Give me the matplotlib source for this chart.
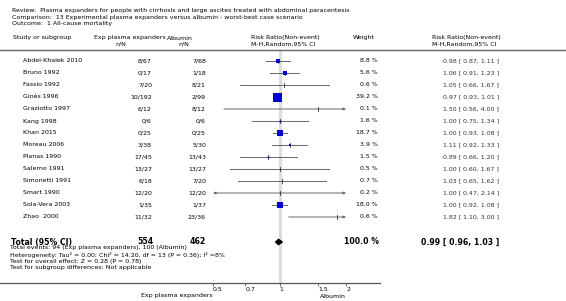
import numpy as np
import matplotlib
matplotlib.use("Agg")
from matplotlib import pyplot as plt
from matplotlib import transforms as mtransforms

# ---------------------------------------------------------------------------#
# data
studies = ['Abdel-Khalek 2010', 'Bruno 1992', 'Fassio 1992', 'Ginès 1996',
           'Graziotto 1997', 'Kang 1998', 'Khan 2015', 'Moreau 2006',
           'Planas 1990', 'Salerno 1991', 'Simonetti 1991', 'Smart 1990',
           'Sola-Vera 2003', 'Zhao  2000']
exp_nN = ['8/67', '0/17', '7/20', '10/192', '6/12', '0/6', '0/25', '3/38',
          '17/45', '13/27', '6/18', '12/20', '1/35', '11/32']
alb_nN = ['7/68', '1/18', '8/21', '2/99', '8/12', '0/6', '0/25', '5/30',
          '13/43', '13/27', '7/20', '12/20', '1/37', '23/36']
weights = [8.8, 5.6, 0.6, 39.2, 0.1, 1.6, 18.7, 3.9, 1.5, 0.5, 0.7, 0.2, 18.0, 0.6]
rr = [0.98, 1.06, 1.05, 0.97, 1.50, 1.00, 1.00, 1.11, 0.89, 1.00, 1.03, 1.00, 1.00, 1.82]
lo = [0.87, 0.91, 0.66, 0.93, 0.56, 0.75, 0.93, 0.92, 0.66, 0.60, 0.65, 0.47, 0.92, 1.10]
hi = [1.11, 1.23, 1.67, 1.01, 4.00, 1.34, 1.08, 1.33, 1.20, 1.67, 1.62, 2.14, 1.08, 3.00]

total_exp = 554
total_alb = 462
total_rr, total_lo, total_hi = 0.99, 0.96, 1.03

xticks = [0.5, 0.7, 1, 1.5, 2]
xtick_labels = ['0.5', '0.7', '1', '1.5', '2']
xmin, xmax = 0.5, 2.0

# ---------------------------------------------------------------------------#
W, H = 566, 301
fig = plt.figure(figsize=(W / 100, H / 100), dpi=100)
fs = 4.5
grey = '#666666'
blue = '#0000CC'

def fx(px):
    return px / W

def fy(py):
    return 1 - py / H

# forest axes: spans px 0..380 horizontally, 50..283 vertically
ax_l, ax_r, ax_t, ax_b = 0, 380, 50, 283
ax = fig.add_axes([fx(ax_l), fy(ax_b), fx(ax_r) - fx(ax_l), (ax_b - ax_t) / H])
ax.set_xscale('log')
# 0.5 sits at px 213 and 2 at px 346
k = (346 - 213) / np.log(xmax / xmin)
ax.set_xlim(xmin * np.exp((ax_l - 213) / k), xmin * np.exp((ax_r - 213) / k))
row0, row_h = 61, 12
ax.set_ylim((ax_b - row0) / row_h, (ax_t - row0) / row_h)
ax.patch.set_alpha(0)
for s in ['left', 'right', 'top']:
    ax.spines[s].set_visible(False)
ax.spines['bottom'].set_color('#555555')
ax.spines['bottom'].set_linewidth(0.9)
ax.set_yticks([])
ax.set_xticks(xticks)
ax.set_xticklabels(xtick_labels, fontsize=fs, ha='left')
ax.minorticks_off()
ax.tick_params(axis='x', length=2.5, width=0.6, color='#555555', pad=0.3)
ax.axvline(1, color='#dddddd', lw=2.2, zorder=0)

rows = np.arange(len(studies))
for i in rows:
    a, b = lo[i], hi[i]
    left_clip, right_clip = a < xmin, b > xmax
    a2, b2 = max(a, xmin), min(b, xmax)
    if left_clip or right_clip:
        style = '<|-|>' if (left_clip and right_clip) else ('-|>' if right_clip else '<|-')
        ax.annotate('', xy=(b2, i), xytext=(a2, i),
                    arrowprops=dict(arrowstyle=style, color=grey, lw=0.7,
                                    mutation_scale=3.5, shrinkA=0, shrinkB=0))
    else:
        ax.plot([a2, b2], [i, i], color=grey, lw=0.7, zorder=2)
    ax.plot([rr[i], rr[i]], [i - 0.13, i + 0.13], color='#333333', lw=0.6, zorder=3)
    side_px = 9 * np.sqrt(weights[i] / max(weights))
    if side_px > 1.5:
        ax.plot(rr[i], i, marker='s', ms=side_px * 0.72, color=blue, mec=blue,
                mew=0, zorder=4)

total_row = (242 - row0) / row_h
dh = 0.22
ax.fill([total_lo, total_rr, total_hi, total_rr],
        [total_row, total_row - dh, total_row, total_row + dh],
        color='black', zorder=4)

lab_tr = mtransforms.blended_transform_factory(ax.transData, fig.transFigure)
ax.text(0.5, fy(296), 'Exp plasma expanders', transform=lab_tr,
        ha='right', va='center', fontsize=fs)
ax.text(2, fy(296), 'Albumin', transform=lab_tr, ha='right', va='center', fontsize=fs)

# ---------------------------------------------------------------------------#
# text columns
tr = mtransforms.blended_transform_factory(fig.transFigure, ax.transData)
for i in rows:
    fig.text(fx(23), i, studies[i], transform=tr, fontsize=fs, va='center')
    fig.text(fx(152), i, exp_nN[i], transform=tr, fontsize=fs, va='center', ha='right')
    fig.text(fx(206), i, alb_nN[i], transform=tr, fontsize=fs, va='center', ha='right')
    fig.text(fx(378), i, '%.1f %%' % weights[i], transform=tr, fontsize=fs,
             va='center', ha='right')
    fig.text(fx(499), i, '%.2f [ %.2f, %.2f ]' % (rr[i], lo[i], hi[i]),
             transform=tr, fontsize=fs, va='center', ha='right', color='#333333')

fsb = 5.6
fig.text(fx(11), total_row, 'Total (95% CI)', transform=tr, fontsize=fsb,
         weight='bold', va='center')
fig.text(fx(154), total_row, str(total_exp), transform=tr, fontsize=fsb,
         weight='bold', va='center', ha='right')
fig.text(fx(206), total_row, str(total_alb), transform=tr, fontsize=fsb,
         weight='bold', va='center', ha='right')
fig.text(fx(379), total_row, '100.0 %', transform=tr, fontsize=fsb,
         weight='bold', va='center', ha='right')
fig.text(fx(499), total_row, '%.2f [ %.2f, %.2f ]' % (total_rr, total_lo, total_hi),
         transform=tr, fontsize=fsb, weight='bold', va='center', ha='right')

notes = ['Total events: 94 (Exp plasma expanders), 100 (Albumin)',
         'Heterogeneity: Tau² = 0.00; Chi² = 14.20, df = 13 (P = 0.36); I² =8%',
         'Test for overall effect: Z = 0.28 (P = 0.78)',
         'Test for subgroup differences: Not applicable']
for j, n in enumerate(notes):
    fig.text(fx(10), fy(248 + 6.6 * j), n, fontsize=fs, va='center')

# header
head = ['Review:  Plasma expanders for people with cirrhosis and large ascites treated with abdominal paracentesis',
        'Comparison:  13 Experimental plasma expanders versus albumin - worst-best case scenario',
        'Outcome:  1 All-cause mortality']
for j, h in enumerate(head):
    fig.text(fx(12), fy(10.7 + 6.3 * j), h, fontsize=fs, va='center')

fig.text(fx(13), fy(38), 'Study or subgroup', fontsize=fs, va='center')
fig.text(fx(94), fy(38), 'Exp plasma expanders', fontsize=fs, va='center')
fig.text(fx(167), fy(38), 'Albumin', fontsize=fs, va='center')
fig.text(fx(115), fy(44), 'n/N', fontsize=fs, va='center')
fig.text(fx(178), fy(44), 'n/N', fontsize=fs, va='center')
fig.text(fx(251), fy(38), 'Risk Ratio(Non-event)', fontsize=fs, va='center')
fig.text(fx(251), fy(44), 'M-H,Random,95% CI', fontsize=fs, va='center')
fig.text(fx(353), fy(38), 'Weight', fontsize=fs, va='center')
fig.text(fx(432), fy(38), 'Risk Ratio(Non-event)', fontsize=fs, va='center')
fig.text(fx(432), fy(44), 'M-H,Random,95% CI', fontsize=fs, va='center')
fig.add_artist(plt.Line2D([0, 1], [fy(49.5), fy(49.5)], color='#666666', lw=1.0))

fig.savefig('out.png', dpi=100)
